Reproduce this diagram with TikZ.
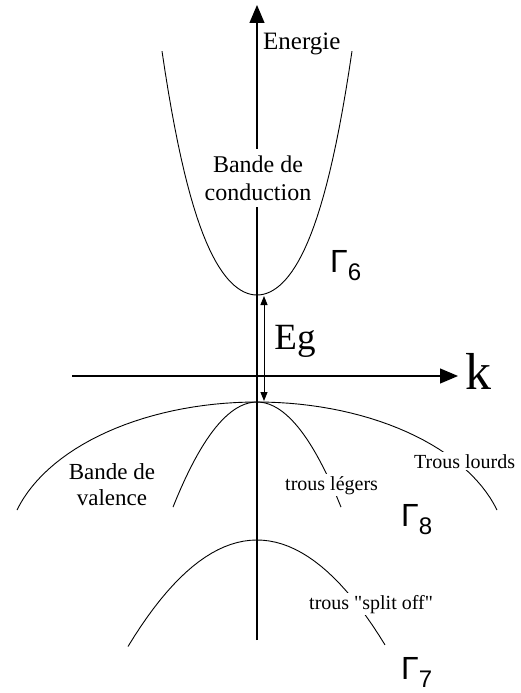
\documentclass[tikz,border=0pt]{standalone}
\usepackage{fontspec}
\setmainfont{Liberation Serif}
\newfontfamily\rmq{Liberation Serif}[Ligatures=Common]
\newfontfamily\gfont{Liberation Sans}
\usetikzlibrary{arrows.meta,positioning}

\begin{document}
\begin{tikzpicture}[
  x=1pt, y=-1pt,
  t/.style={font=\fontsize{20}{24}\selectfont,inner sep=2pt},
  tw/.style={t,fill=white},
  g/.style={font=\gfont\fontsize{32}{32}\selectfont,inner sep=0pt,anchor=base west},
  ax/.style={line width=1.2pt,-{Triangle[length=18pt,width=15pt]}},
  bd/.style={line width=0.9pt},
  eg/.style={line width=0.9pt,{Triangle[length=9pt,width=7pt]}-{Triangle[length=9pt,width=7pt]}}]
\useasboundingbox (0,0) rectangle (520,693);
\coordinate (k0) at (72,376);
\coordinate (k1) at (458,376);
\coordinate (e0) at (257,640);
\coordinate (e1) at (257,5);
\coordinate (cb) at (264,296);
\coordinate (vb) at (264,401);
\draw[ax] (k0)--(k1);
\draw[ax] (e0)--(e1);
\draw[eg] (cb)--(vb);
% bands
\draw[bd] plot[domain=-95:95,samples=61] ({257+\x},{295-0.018*\x*\x-0.01*(\x*\x/100)*(\x*\x/100)});
\draw[bd] plot[domain=16.26:163.74,samples=61] ({257+250*cos(\x)},{552-150*sin(\x)});
\draw[bd] plot[domain=-84:84,samples=41] ({257+\x},{402+0.0149*\x*\x});
\draw[bd] plot[domain=-129:128,samples=41] ({257+\x},{540+0.64*(\x/10)*(\x/10)});
% labels
\node[t,anchor=base west,font=\fontsize{25}{30}\selectfont] (en) at (261,50) {Energie};
\node[tw,align=center,inner sep=7pt,font=\fontsize{24}{28}\selectfont] (bc) at (258,178) {Bande de\\conduction};
\node[t,font=\fontsize{37}{40}\selectfont] (eg) at (295,341) {Eg};
\node[t,font=\fontsize{52}{52}\selectfont] (k) at (478,371) {k};
\node[t,align=center,font=\fontsize{23}{26}\selectfont] (bv) at (112,485) {Bande de\\valence};
\node[tw,anchor=base west] (tl) at (412,468) {Trous lourds};
\node[tw,anchor=base west] (tg) at (283,490) {trous légers};
\node[tw,anchor=base west,font=\rmq\fontsize{20}{24}\selectfont] (ts) at (307,609) {trous "split off"};
\node[g] (g6) at (330,272) {Γ\raisebox{-8pt}{\fontsize{24}{24}\selectfont 6}};
\node[g] (g8) at (401,526) {Γ\raisebox{-8pt}{\fontsize{24}{24}\selectfont 8}};
\node[g] (g7) at (401,679) {Γ\raisebox{-8pt}{\fontsize{24}{24}\selectfont 7}};
\end{tikzpicture}
\end{document}
